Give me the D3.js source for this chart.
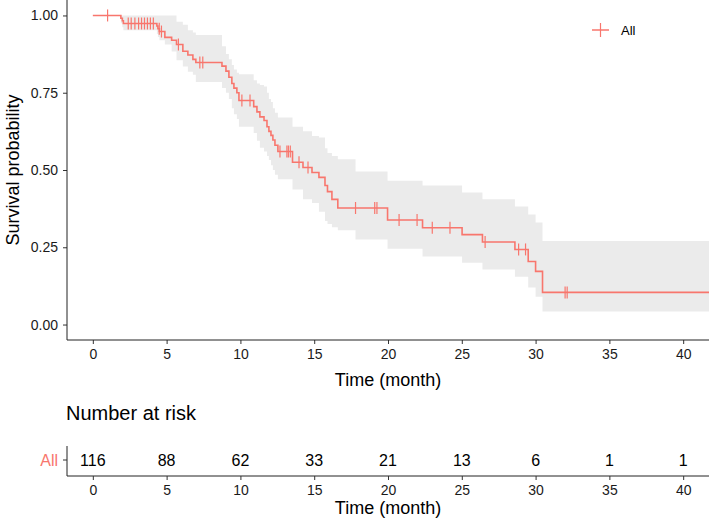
<html>

<head>
    <meta charset="utf-8">
    <title>Survival</title>
    <script src="https://cdn.jsdelivr.net/npm/d3@7/dist/d3.min.js" charset="utf-8"></script>
    <style>
        body { margin: 0; background: #fff; }
        svg text { font-family: "Liberation Sans", Arial, sans-serif; }
    </style>
</head>

<body>
    <div id="main-svg"></div>
</body>
<script>

    // KM step points (time in months, survival)
    var eventTime = [0, 1.9, 2.0, 2.07, 4.34, 4.41, 4.51, 4.88, 5.34, 5.67, 6.10, 6.44, 6.78, 6.98, 8.75, 9.02, 9.22, 9.42, 9.56, 9.76, 9.90,
        10.9, 11.12, 11.32, 11.6, 11.8, 11.93, 12.07, 12.2, 12.34, 12.54, 13.53, 14.24, 14.85, 15.32, 15.73, 15.9, 16.2, 16.6,
        19.97, 22.34, 25.02, 26.4, 28.6, 29.5, 30.0, 30.47];
    var survival = [1, 0.991, 0.983, 0.974, 0.966, 0.957, 0.948, 0.929, 0.920, 0.906, 0.884, 0.872, 0.858, 0.848, 0.836, 0.820, 0.80, 0.78, 0.765, 0.750, 0.725,
        0.705, 0.688, 0.672, 0.660, 0.640, 0.625, 0.612, 0.597, 0.580, 0.560, 0.525, 0.508, 0.492, 0.476, 0.450, 0.430, 0.405, 0.377,
        0.338, 0.313, 0.291, 0.267, 0.243, 0.204, 0.172, 0.104];

    // confidence band
    var bandTime = [0, 1.9, 2.0, 2.07, 4.34, 4.41, 4.51, 4.88, 5.34, 5.67, 6.10, 6.44, 6.78, 6.98, 8.75, 9.02, 9.22, 9.42, 9.56, 9.76, 9.90,
        10.9, 11.12, 11.32, 11.6, 11.8, 11.93, 12.07, 12.2, 12.34, 12.54, 13.53, 14.24, 14.85, 15.32, 15.73, 15.9, 16.2, 16.6,
        17.8, 19.97, 22.34, 25.02, 26.4, 28.6, 29.5, 30.0, 30.47];
    var bandHigh = [1, 1, 1, 1, 1, 1, 1, 1, 1, 0.98, 0.97, 0.952, 0.945, 0.937, 0.90, 0.875, 0.858, 0.84, 0.825, 0.815, 0.81,
        0.79, 0.78, 0.775, 0.77, 0.75, 0.73, 0.72, 0.70, 0.685, 0.67, 0.64, 0.625, 0.61, 0.605, 0.57, 0.555, 0.545, 0.535,
        0.495, 0.465, 0.450, 0.427, 0.405, 0.382, 0.356, 0.33, 0.27];
    var bandLow = [1, 0.975, 0.962, 0.952, 0.94, 0.93, 0.92, 0.906, 0.883, 0.855, 0.835, 0.818, 0.808, 0.785, 0.765, 0.75, 0.73, 0.70, 0.68, 0.665, 0.64,
        0.62, 0.595, 0.572, 0.56, 0.545, 0.532, 0.515, 0.50, 0.485, 0.47, 0.437, 0.405, 0.393, 0.365, 0.335, 0.325, 0.315, 0.305,
        0.275, 0.245, 0.22, 0.20, 0.178, 0.155, 0.12, 0.09, 0.042];

    // censored times
    var censorTime = [1.0, 2.4, 2.6, 2.85, 3.1, 3.3, 3.5, 3.7, 3.9, 4.1, 4.5, 4.65, 5.8, 7.25, 7.45, 10.1, 10.65, 12.68, 13.15, 13.25, 13.38,
        13.97, 14.58, 17.8, 19.1, 19.25, 20.75, 21.97, 23.0, 24.2, 26.58, 28.85, 29.32, 32.0, 32.14];

    var riskTime = [0, 5, 10, 15, 20, 25, 30, 35, 40];
    var riskCount = [116, 88, 62, 33, 21, 13, 6, 1, 1];
    var yTicks = [0, 0.25, 0.5, 0.75, 1];
    var strata = "All";
    var color = "#F8766D";

    var width = 709, height = 525;
    var left = 67, right = 709;
    var xMax = 41.75;
    var font = "'Liberation Sans', Arial, sans-serif";

    var svg = d3.select("#main-svg").append("svg")
        .attr("width", width).attr("height", height);

    var x = d3.scaleLinear().domain([-1.75, xMax]).range([left, right]);
    var y = d3.scaleLinear().domain([-0.05, 1.05]).range([340, 0]);

    // band
    var band = bandTime.map(function (t, i) { return { t: t, lo: bandLow[i], hi: bandHigh[i] }; });
    band.push({ t: xMax, lo: bandLow[bandLow.length - 1], hi: bandHigh[bandHigh.length - 1] });
    svg.append("path")
        .datum(band)
        .attr("fill", "#ebebeb")
        .attr("d", d3.area().curve(d3.curveStepAfter)
            .x(function (d) { return x(d.t); })
            .y0(function (d) { return y(d.lo); })
            .y1(function (d) { return y(d.hi); }));

    // curve
    var pts = eventTime.map(function (t, i) { return [t, survival[i]]; });
    pts.push([xMax, survival[survival.length - 1]]);
    svg.append("path")
        .datum(pts)
        .attr("fill", "none")
        .attr("stroke", color)
        .attr("stroke-width", 1.6)
        .attr("d", d3.line().curve(d3.curveStepAfter)
            .x(function (d) { return x(d[0]); })
            .y(function (d) { return y(d[1]); }));

    function survAt(t) {
        var i = d3.bisectRight(eventTime, t) - 1;
        return survival[Math.max(i, 0)];
    }
    svg.selectAll(".cens")
        .data(censorTime)
        .enter().append("line")
        .attr("x1", function (d) { return x(d); })
        .attr("x2", function (d) { return x(d); })
        .attr("y1", function (d) { return y(survAt(d)) - 6; })
        .attr("y2", function (d) { return y(survAt(d)) + 6; })
        .attr("stroke", color)
        .attr("stroke-width", 1.2);

    function styleAxis(g) {
        g.select(".domain").remove();
        g.selectAll("line").attr("stroke", "#333");
        g.selectAll("text").attr("font-size", 14).attr("fill", "#1a1a1a").style("font-family", font);
    }

    // axes
    var xAxis = d3.axisBottom(x).tickValues(riskTime).tickSize(4).tickPadding(5);
    var gx = svg.append("g").attr("transform", "translate(0,340)").call(xAxis);
    var yAxis = d3.axisLeft(y).tickValues(yTicks).tickFormat(d3.format(".2f")).tickSize(4).tickPadding(5);
    var gy = svg.append("g").attr("transform", "translate(" + left + ",0)").call(yAxis);
    styleAxis(gx);
    styleAxis(gy);
    svg.append("line").attr("x1", left).attr("x2", right).attr("y1", 340).attr("y2", 340).attr("stroke", "#222");
    svg.append("line").attr("x1", left).attr("x2", left).attr("y1", 0).attr("y2", 340).attr("stroke", "#222");

    svg.append("text").attr("x", (left + right) / 2).attr("y", 386)
        .attr("text-anchor", "middle").attr("font-size", 18).text("Time (month)");
    svg.append("text").attr("transform", "translate(19,170) rotate(-90)")
        .attr("text-anchor", "middle").attr("font-size", 18).text("Survival probability");

    // legend
    svg.append("line").attr("x1", 592).attr("x2", 609).attr("y1", 30).attr("y2", 30).attr("stroke", color).attr("stroke-width", 1.5);
    svg.append("line").attr("x1", 600.5).attr("x2", 600.5).attr("y1", 23).attr("y2", 37).attr("stroke", color).attr("stroke-width", 1.2);
    svg.append("text").attr("x", 621).attr("y", 35).attr("font-size", 13).text(strata);

    // number at risk table
    svg.append("text").attr("x", 66).attr("y", 420).attr("font-size", 20).text("Number at risk");
    var rowY = 460;
    svg.selectAll(".risk")
        .data(riskCount)
        .enter().append("text")
        .attr("x", function (d, i) { return x(riskTime[i]); })
        .attr("y", rowY + 6)
        .attr("text-anchor", "middle")
        .attr("font-size", 16)
        .text(function (d) { return d; });
    svg.append("line").attr("x1", left).attr("x2", left).attr("y1", 446).attr("y2", 476).attr("stroke", "#222");
    svg.append("line").attr("x1", left).attr("x2", right).attr("y1", 476).attr("y2", 476).attr("stroke", "#222");
    svg.append("line").attr("x1", left - 4).attr("x2", left).attr("y1", rowY).attr("y2", rowY).attr("stroke", "#333");
    svg.append("text").attr("x", left - 9).attr("y", rowY + 6).attr("text-anchor", "end")
        .attr("font-size", 16).attr("fill", color).text(strata);
    var gx2 = svg.append("g").attr("transform", "translate(0,476)").call(xAxis);
    styleAxis(gx2);
    svg.append("text").attr("x", (left + right) / 2).attr("y", 514)
        .attr("text-anchor", "middle").attr("font-size", 18).text("Time (month)");

</script>

</html>
